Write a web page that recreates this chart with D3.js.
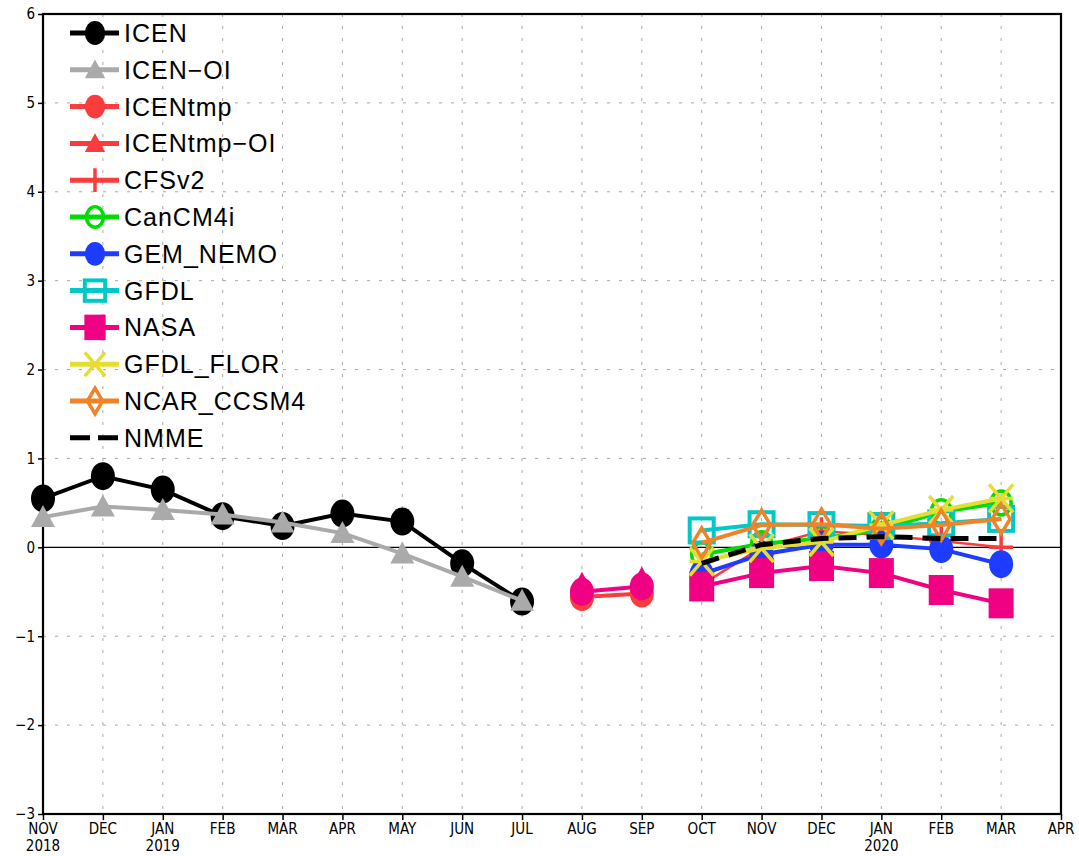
<!DOCTYPE html>
<html>
<head>
<meta charset="utf-8">
<script src="https://cdn.jsdelivr.net/npm/d3@7"></script>
<style>
  html, body { margin: 0; padding: 0; background: #fff; }
</style>
</head>
<body>
<div id="chart"></div>
<script>
// Months on the x axis (Nov 2018 .. Apr 2020)
const months = ["NOV", "DEC", "JAN", "FEB", "MAR", "APR", "MAY", "JUN", "JUL",
                "AUG", "SEP", "OCT", "NOV", "DEC", "JAN", "FEB", "MAR", "APR"];
const years = {0: "2018", 2: "2019", 14: "2020"};
const yTicks = [-3, -2, -1, 0, 1, 2, 3, 4, 5, 6];

const _ = null;
// observed (index 0..8)
const icen    = [0.55, 0.80, 0.65, 0.35, 0.24, 0.38, 0.29, -0.18, -0.61];
const icenOI  = [0.34, 0.46, 0.42, 0.37, 0.28, 0.16, -0.07, -0.33, -0.60];
// Aug, Sep (index 9, 10)
const icenTmp   = [_, _, _, _, _, _, _, _, _, -0.56, -0.52];
const icenTmpOI = [_, _, _, _, _, _, _, _, _, -0.50, -0.44];
// forecasts Oct..Mar (index 11..16)
const pad = [_, _, _, _, _, _, _, _, _, _, _];
const cfsv2    = pad.concat([-0.42, 0.00, 0.18, 0.14, 0.07, 0.00]);
const cancm4i  = pad.concat([-0.08, 0.04, 0.10, 0.20, 0.40, 0.50]);
const gemNemo  = pad.concat([-0.30, -0.08, 0.03, 0.03, -0.02, -0.19]);
const gfdl     = pad.concat([0.19, 0.26, 0.25, 0.24, 0.27, 0.32]);
const nasa     = pad.concat([-0.44, -0.29, -0.21, -0.29, -0.48, -0.63]);
const gfdlFlor = pad.concat([-0.16, -0.01, 0.06, 0.25, 0.42, 0.55]);
const ncar     = pad.concat([0.05, 0.25, 0.26, 0.21, 0.25, 0.32]);
const nmme     = pad.concat([-0.18, 0.03, 0.10, 0.12, 0.10, 0.10]);

const series = [
  {name: "ICEN",        values: icen,      color: "#000000", mark: "circle",   width: 4},
  {name: "ICEN\u2212OI", values: icenOI,   color: "#aaaaaa", mark: "triangle", width: 4},
  {name: "ICENtmp",     values: icenTmp,   color: "#fa3c3c", mark: "circle",   width: 4},
  {name: "ICENtmp\u2212OI", values: icenTmpOI, color: "#fa3c3c", plotColor: "#f00082", mark: "triangle", width: 4},
  {name: "CFSv2",       values: cfsv2,     color: "#fa3c3c", mark: "plus",     width: 2.5},
  {name: "CanCM4i",     values: cancm4i,   color: "#00dc00", mark: "ocircle",  width: 4},
  {name: "GEM_NEMO",    values: gemNemo,   color: "#1e3cff", mark: "circle",   width: 4},
  {name: "GFDL",        values: gfdl,      color: "#00c8c8", mark: "osquare",  width: 4},
  {name: "NASA",        values: nasa,      color: "#f00082", mark: "square",   width: 4},
  {name: "GFDL_FLOR",   values: gfdlFlor,  color: "#e6dc32", mark: "x",        width: 4},
  {name: "NCAR_CCSM4",  values: ncar,      color: "#f08228", mark: "odiamond", width: 4},
  {name: "NMME",        values: nmme,      color: "#000000", mark: "none",     width: 5, dash: "18,10"}
];

const W = 1079, H = 856;
const margin = {top: 14, right: 18, bottom: 42, left: 43};
const font = "'Liberation Sans Narrow', 'DejaVu Sans Condensed', 'Liberation Sans', sans-serif";

const svg = d3.select("#chart").append("svg")
  .attr("width", W).attr("height", H)
  .style("display", "block");

const x = d3.scaleLinear().domain([0, months.length - 1]).range([margin.left, W - margin.right]);
const y = d3.scaleLinear().domain([-3, 6]).range([H - margin.bottom, margin.top]);

// grid
const grid = svg.append("g").attr("stroke", "#a8a8a8").attr("stroke-width", 1).attr("stroke-dasharray", "3,9");
grid.selectAll("line.v").data(d3.range(1, months.length - 1)).join("line")
  .attr("x1", d => x(d)).attr("x2", d => x(d))
  .attr("y1", y(6)).attr("y2", y(-3));
grid.selectAll("line.h").data(yTicks.filter(d => d !== 0 && d !== -3 && d !== 6)).join("line")
  .attr("x1", x(0)).attr("x2", x(months.length - 1))
  .attr("y1", d => y(d)).attr("y2", d => y(d));

// zero line
svg.append("line")
  .attr("x1", x(0)).attr("x2", x(months.length - 1))
  .attr("y1", y(0)).attr("y2", y(0))
  .attr("stroke", "#000").attr("stroke-width", 1.2);

// axes
const xAxis = svg.append("g")
  .attr("transform", `translate(0,${y(-3)})`)
  .call(d3.axisBottom(x).tickValues(d3.range(months.length)).tickSize(6).tickFormat(""));
xAxis.select(".domain").remove();
xAxis.selectAll("line").attr("stroke-width", 1.5);
const xl = svg.append("g").attr("font-family", font).attr("font-size", 15).attr("text-anchor", "middle");
months.forEach((m, i) => {
  xl.append("text").attr("x", x(i)).attr("y", y(-3) + 20).text(m);
  if (years[i]) xl.append("text").attr("x", x(i)).attr("y", y(-3) + 37).text(years[i]);
});

const yAxis = svg.append("g")
  .attr("transform", `translate(${x(0)},0)`)
  .call(d3.axisLeft(y).tickValues(yTicks).tickSize(5).tickPadding(3)
    .tickFormat(d => d < 0 ? "\u2212" + Math.abs(d) : d));
yAxis.select(".domain").remove();
yAxis.selectAll("line").attr("stroke-width", 1.5);
yAxis.selectAll("text").attr("font-family", font).attr("font-size", 15).attr("fill", "#000");

// frame
svg.append("rect")
  .attr("x", x(0)).attr("y", y(6))
  .attr("width", x(months.length - 1) - x(0)).attr("height", y(-3) - y(6))
  .attr("fill", "none").attr("stroke", "#000").attr("stroke-width", 2.2);

function marker(g, type, cx, cy, color, k = 1) {
  if (type === "circle") {
    g.append("ellipse").attr("cx", cx).attr("cy", cy).attr("rx", 12 * k).attr("ry", 14 * k).attr("fill", color);
  } else if (type === "triangle") {
    g.append("path").attr("d", `M${cx},${cy - 12 * k}L${cx + 12 * k},${cy + 10 * k}L${cx - 12 * k},${cy + 10 * k}Z`).attr("fill", color);
  } else if (type === "plus") {
    g.append("path").attr("d", `M${cx - 12 * k},${cy}H${cx + 12 * k}M${cx},${cy - 14 * k}V${cy + 14 * k}`)
      .attr("stroke", color).attr("stroke-width", 3.5);
  } else if (type === "ocircle") {
    g.append("ellipse").attr("cx", cx).attr("cy", cy).attr("rx", 10 * k).attr("ry", 12 * k)
      .attr("fill", "none").attr("stroke", color).attr("stroke-width", 3.5);
  } else if (type === "osquare") {
    g.append("rect").attr("x", cx - 12 * k).attr("y", cy - 12 * k).attr("width", 24 * k).attr("height", 24 * k)
      .attr("fill", "none").attr("stroke", color).attr("stroke-width", 4);
  } else if (type === "square") {
    g.append("rect").attr("x", cx - 12.5 * k).attr("y", cy - 15 * k).attr("width", 25 * k).attr("height", 30 * k).attr("fill", color);
  } else if (type === "x") {
    g.append("path").attr("d", `M${cx - 12 * k},${cy - 14 * k}L${cx + 12 * k},${cy + 14 * k}M${cx + 12 * k},${cy - 14 * k}L${cx - 12 * k},${cy + 14 * k}M${cx - 12 * k},${cy}H${cx + 12 * k}`)
      .attr("stroke", color).attr("stroke-width", 3.5);
  } else if (type === "odiamond") {
    g.append("path").attr("d", `M${cx},${cy - 15 * k}L${cx + 9 * k},${cy}L${cx},${cy + 15 * k}L${cx - 9 * k},${cy}Z`)
      .attr("fill", "none").attr("stroke", color).attr("stroke-width", 3.5);
  }
}

// series
const line = d3.line().defined(d => d.v !== null).x(d => x(d.i)).y(d => y(d.v));
const plot = svg.append("g");
series.forEach(s => {
  const c = s.plotColor || s.color;
  const pts = s.values.map((v, i) => ({i, v}));
  const g = plot.append("g");
  g.append("path").datum(pts).attr("d", line)
    .attr("fill", "none").attr("stroke", c).attr("stroke-width", s.width)
    .attr("stroke-dasharray", s.dash || null);
  pts.filter(d => d.v !== null).forEach(d => {
    if (s.plotColor) marker(g, "circle", x(d.i), y(d.v), c);
    marker(g, s.mark, x(d.i), y(d.v) - (s.plotColor ? 8 : 0), c);
  });
});

// legend
const lg = svg.append("g").attr("font-family", "'Liberation Sans', Arial, sans-serif").attr("font-size", 25);
series.forEach((s, k) => {
  const ly = 33 + k * 36.8;
  lg.append("line").attr("x1", 70).attr("x2", 119).attr("y1", ly).attr("y2", ly)
    .attr("stroke", s.color).attr("stroke-width", 5)
    .attr("stroke-dasharray", s.dash ? "20,8" : null);
  marker(lg, s.mark, 95, ly, s.color, 0.85);
  lg.append("text").attr("x", 124).attr("y", ly + 9).attr("letter-spacing", 1).text(s.name);
});
</script>
</body>
</html>
